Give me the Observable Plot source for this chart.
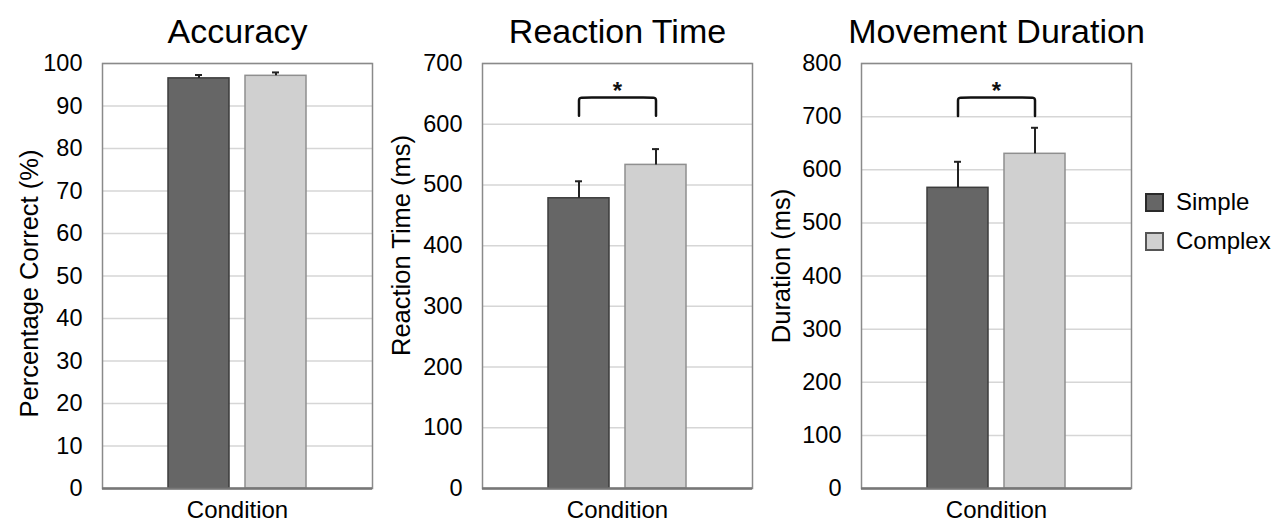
<!DOCTYPE html>
<html>
<head>
<meta charset="utf-8">
<script src="https://cdn.jsdelivr.net/npm/d3@7"></script>
<script src="https://cdn.jsdelivr.net/npm/@observablehq/plot@0.6"></script>
<style>
  html, body { margin: 0; padding: 0; background: #fff; }
  #wrap { position: relative; width: 1275px; height: 522px; overflow: hidden; font-family: "Liberation Sans", Arial, sans-serif; color: #000; }
  .panel { position: absolute; top: 0; }
  .legend { position: absolute; left: 1145px; font-size: 23px; }
  .legend .item { position: absolute; left: 0; white-space: nowrap; display: flex; align-items: center; }
  .legend .sw { width: 15px; height: 15px; margin-right: 12px; box-sizing: content-box; }
</style>
</head>
<body>
<div id="wrap"></div>
<script>
// ---- data ----
const conditions = ["Simple", "Complex"];
const titles = ["Accuracy", "Reaction Time", "Movement Duration"];
const yLabels = ["Percentage Correct (%)", "Reaction Time (ms)", "Duration (ms)"];
const xLabel = "Condition";
const yMax = [100, 700, 800];
const yStep = [10, 100, 100];

const accuracyMean = [96.5, 97.1];
const accuracyUpper = [97.3, 97.9];
const reactionMean = [478, 533];
const reactionUpper = [506, 559];
const durationMean = [566, 630];
const durationUpper = [615, 679];

// significance brackets (null = none)
const bracketEnd = [null, 614, 701];
const bracketTop = [null, 644, 736];
const starY = [null, 664, 759];
const starText = "*";

// ---- styles ----
const barFill = ["#666666", "#d0d0d0"];
const barStroke = ["#3c3c3c", "#8f8f8f"];
const font = '"Liberation Sans", Arial, sans-serif';
const panelLeft = [0, 380, 759];
const labelCenterDy = [7.5, -30.5, -10];
const labelDx = [-73, -81, -80];

const means = [accuracyMean, reactionMean, durationMean];
const uppers = [accuracyUpper, reactionUpper, durationUpper];

const wrap = document.getElementById("wrap");

for (let i = 0; i < 3; i++) {
  const data = conditions.map((c, j) => ({cond: c, mean: means[i][j], upper: uppers[i][j]}));
  const ticks = d3.range(0, yMax[i] + yStep[i] / 2, yStep[i]);
  const marks = [
    Plot.gridY(ticks, {stroke: "#d6d6d6", strokeOpacity: 1, strokeWidth: 1.5}),
    Plot.frame({stroke: "#8a8a8a", strokeWidth: 1.5}),
    ...conditions.map((c, j) => Plot.barY(data.filter(d => d.cond === c), {
      x: "cond", y: "mean", fill: barFill[j], stroke: barStroke[j], strokeWidth: 1.5
    })),
    Plot.ruleX(data, {x: "cond", y1: "mean", y2: "upper", stroke: "#222", strokeWidth: 2}),
    Plot.tickY(data, {x: "cond", y: "upper", stroke: "#222", strokeWidth: 2, insetLeft: 27, insetRight: 27}),
    Plot.ruleY([0], {stroke: "#777", strokeWidth: 2.5}),
    Plot.axisY(ticks, {tickSize: 0, tickPadding: 20, fontSize: 23.5, label: null, fill: "#000"}),
    Plot.text([titles[i]], {frameAnchor: "top", lineAnchor: "bottom", dy: -21, fontSize: 34, fill: "#000"}),
    Plot.text([xLabel], {frameAnchor: "bottom", lineAnchor: "bottom", dy: 29, fontSize: 24, fill: "#000"}),
    Plot.text([yLabels[i]], {frameAnchor: "left", textAnchor: "middle", lineAnchor: "middle", rotate: -90, dx: labelDx[i], dy: labelCenterDy[i], fontSize: 25.5, fill: "#000"})
  ];
  if (bracketEnd[i] != null) {
    const pts = [
      {cond: conditions[0], y: bracketEnd[i]},
      {cond: conditions[0], y: bracketTop[i]},
      {cond: conditions[0], y: bracketTop[i]},
      {cond: conditions[1], y: bracketTop[i]},
      {cond: conditions[1], y: bracketTop[i]},
      {cond: conditions[1], y: bracketEnd[i]}
    ];
    marks.push(Plot.line(pts, {x: "cond", y: "y", curve: "basis", stroke: "#111", strokeWidth: 2.5}));
    marks.push(Plot.text([starY[i]], {y: d => d, text: () => starText, frameAnchor: "middle", dy: 6, fontSize: 24, fontWeight: "bold", fill: "#111"}));
  }
  const chart = Plot.plot({
    width: 380,
    height: 522,
    marginLeft: 102,
    marginRight: 8,
    marginTop: 63,
    marginBottom: 34,
    style: {fontFamily: font, background: "transparent", overflow: "visible", color: "#000"},
    x: {domain: conditions, axis: null, paddingInner: 0.208, paddingOuter: 0.857},
    y: {domain: [0, yMax[i]], axis: null},
    marks
  });
  chart.classList.add("panel");
  chart.style.left = panelLeft[i] + "px";
  wrap.appendChild(chart);
}

// legend
const legend = document.createElement("div");
legend.className = "legend";
const legendTops = [188, 227];
conditions.forEach((c, j) => {
  const item = document.createElement("div");
  item.className = "item";
  item.style.top = legendTops[j] + "px";
  const sw = document.createElement("span");
  sw.className = "sw";
  sw.style.background = barFill[j];
  sw.style.border = "2px solid " + (j === 0 ? "#2a2a2a" : "#555");
  const t = document.createElement("span");
  t.textContent = c;
  t.style.fontSize = "24px";
  item.appendChild(sw);
  item.appendChild(t);
  legend.appendChild(item);
});
wrap.appendChild(legend);
</script>
</body>
</html>
